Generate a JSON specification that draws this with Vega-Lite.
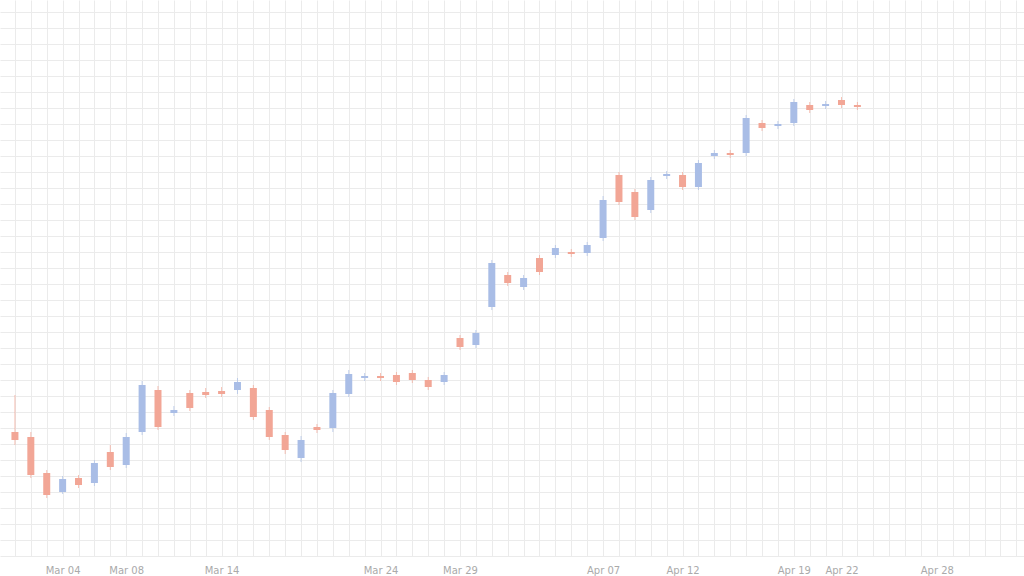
{
  "$schema": "https://vega.github.io/schema/vega-lite/v6.json",
  "width": 1024,
  "height": 556,
  "autosize": {"type": "none"},
  "padding": {"left": 0, "right": 0, "top": 0, "bottom": 20},
  "background": "white",
  "config": {"view": {"stroke": null}},
  "data": {"values": [
    {"date": "2021-03-01", "open": 155, "high": 201.25, "low": 138.75, "close": 145},
    {"date": "2021-03-02", "open": 148.75, "high": 155, "low": 97.5, "close": 101.25},
    {"date": "2021-03-03", "open": 103.75, "high": 107.5, "low": 72.5, "close": 76.25},
    {"date": "2021-03-04", "open": 80, "high": 100, "low": 77.5, "close": 96.25},
    {"date": "2021-03-05", "open": 97.5, "high": 101.25, "low": 85, "close": 88.75},
    {"date": "2021-03-06", "open": 91.25, "high": 120, "low": 87.5, "close": 116.25},
    {"date": "2021-03-07", "open": 130, "high": 138.75, "low": 107.5, "close": 111.25},
    {"date": "2021-03-08", "open": 113.75, "high": 153.75, "low": 110, "close": 148.75},
    {"date": "2021-03-09", "open": 155, "high": 218.75, "low": 151.25, "close": 213.75},
    {"date": "2021-03-10", "open": 207.5, "high": 212.5, "low": 157.5, "close": 161.25},
    {"date": "2021-03-11", "open": 178.75, "high": 187.5, "low": 175, "close": 182.5},
    {"date": "2021-03-12", "open": 203.75, "high": 207.5, "low": 181.25, "close": 185},
    {"date": "2021-03-13", "open": 205, "high": 210, "low": 197.5, "close": 201.25},
    {"date": "2021-03-14", "open": 206.25, "high": 211.25, "low": 198.75, "close": 202.5},
    {"date": "2021-03-15", "open": 207.5, "high": 222.5, "low": 202.5, "close": 217.5},
    {"date": "2021-03-16", "open": 210, "high": 213.75, "low": 170, "close": 173.75},
    {"date": "2021-03-17", "open": 182.5, "high": 186.25, "low": 145, "close": 148.75},
    {"date": "2021-03-18", "open": 151.25, "high": 155, "low": 127.5, "close": 132.5},
    {"date": "2021-03-19", "open": 122.5, "high": 150, "low": 117.5, "close": 145},
    {"date": "2021-03-20", "open": 161.25, "high": 165, "low": 153.75, "close": 157.5},
    {"date": "2021-03-21", "open": 160, "high": 207.5, "low": 155, "close": 203.75},
    {"date": "2021-03-22", "open": 202.5, "high": 232.5, "low": 198.75, "close": 227.5},
    {"date": "2021-03-23", "open": 222.5, "high": 228.75, "low": 218.75, "close": 225},
    {"date": "2021-03-24", "open": 225, "high": 228.75, "low": 218.75, "close": 222.5},
    {"date": "2021-03-25", "open": 226.25, "high": 230, "low": 213.75, "close": 217.5},
    {"date": "2021-03-26", "open": 228.75, "high": 232.5, "low": 216.25, "close": 220},
    {"date": "2021-03-27", "open": 220, "high": 223.75, "low": 207.5, "close": 211.25},
    {"date": "2021-03-28", "open": 217.5, "high": 230, "low": 213.75, "close": 226.25},
    {"date": "2021-03-29", "open": 272.5, "high": 276.25, "low": 257.5, "close": 261.25},
    {"date": "2021-03-30", "open": 263.75, "high": 282.5, "low": 260, "close": 278.75},
    {"date": "2021-03-31", "open": 311.25, "high": 370, "low": 307.5, "close": 366.25},
    {"date": "2021-04-01", "open": 351.25, "high": 355, "low": 337.5, "close": 341.25},
    {"date": "2021-04-02", "open": 336.25, "high": 351.25, "low": 332.5, "close": 347.5},
    {"date": "2021-04-03", "open": 372.5, "high": 376.25, "low": 351.25, "close": 355},
    {"date": "2021-04-04", "open": 376.25, "high": 388.75, "low": 372.5, "close": 385},
    {"date": "2021-04-05", "open": 380, "high": 383.75, "low": 373.75, "close": 377.5},
    {"date": "2021-04-06", "open": 378.75, "high": 392.5, "low": 375, "close": 388.75},
    {"date": "2021-04-07", "open": 397.5, "high": 450, "low": 393.75, "close": 445},
    {"date": "2021-04-08", "open": 476.25, "high": 480, "low": 438.75, "close": 442.5},
    {"date": "2021-04-09", "open": 455, "high": 458.75, "low": 420, "close": 423.75},
    {"date": "2021-04-10", "open": 432.5, "high": 473.75, "low": 428.75, "close": 470},
    {"date": "2021-04-11", "open": 475, "high": 481.25, "low": 471.25, "close": 477.5},
    {"date": "2021-04-12", "open": 476.25, "high": 480, "low": 457.5, "close": 461.25},
    {"date": "2021-04-13", "open": 461.25, "high": 495, "low": 457.5, "close": 491.25},
    {"date": "2021-04-14", "open": 500, "high": 507.5, "low": 496.25, "close": 503.75},
    {"date": "2021-04-15", "open": 503.75, "high": 507.5, "low": 497.5, "close": 501.25},
    {"date": "2021-04-16", "open": 503.75, "high": 551.25, "low": 500, "close": 547.5},
    {"date": "2021-04-17", "open": 541.25, "high": 545, "low": 531.25, "close": 535},
    {"date": "2021-04-18", "open": 537.5, "high": 543.75, "low": 533.75, "close": 540},
    {"date": "2021-04-19", "open": 541.25, "high": 571.25, "low": 537.5, "close": 567.5},
    {"date": "2021-04-20", "open": 563.75, "high": 567.5, "low": 553.75, "close": 557.5},
    {"date": "2021-04-21", "open": 562.5, "high": 568.75, "low": 558.75, "close": 565},
    {"date": "2021-04-22", "open": 570, "high": 573.75, "low": 560, "close": 563.75},
    {"date": "2021-04-23", "open": 563.75, "high": 567.5, "low": 557.5, "close": 561.25}
  ]},
  "resolve": {"axis": {"x": "independent"}},
  "layer": [
    {
      "mark": {"type": "rule", "strokeWidth": 1, "opacity": 0.7},
      "encoding": {
        "x": {
          "field": "date",
          "type": "temporal",
          "title": null,
          "scale": {"type": "utc", "domain": ["2021-02-28T09:00:00Z", "2021-05-03T04:00:00Z"]},
          "axis": {
            "orient": "bottom",
            "tickCount": {"interval": "day", "step": 1},
            "grid": true,
            "gridColor": "#ebebeb",
            "domain": false,
            "ticks": false,
            "labels": false
          }
        },
        "y": {
          "field": "low",
          "type": "quantitative",
          "scale": {"domain": [0, 695], "nice": false, "zero": false},
          "axis": {
            "title": null,
            "labels": false,
            "ticks": false,
            "domain": false,
            "grid": true,
            "gridColor": "#ebebeb",
            "tickCount": 35
          }
        },
        "y2": {"field": "high"},
        "color": {
          "condition": {"test": "datum.open <= datum.close", "value": "#a9bde6"},
          "value": "#f2a696"
        }
      }
    },
    {
      "mark": {"type": "bar", "size": 7},
      "encoding": {
        "x": {
          "field": "date",
          "type": "temporal",
          "title": null,
          "axis": {
            "orient": "bottom",
            "values": ["2021-03-04T00:00:00Z", "2021-03-08T00:00:00Z", "2021-03-14T00:00:00Z", "2021-03-24T00:00:00Z", "2021-03-29T00:00:00Z", "2021-04-07T00:00:00Z", "2021-04-12T00:00:00Z", "2021-04-19T00:00:00Z", "2021-04-22T00:00:00Z", "2021-04-28T00:00:00Z"],
            "format": "%b %d",
            "grid": false,
            "domain": false,
            "ticks": false,
            "labelColor": "#aaaaaa",
            "labelFontSize": 10,
            "labelFont": "DejaVu Sans",
            "labelPadding": 9,
            "labelOverlap": false
          }
        },
        "y": {"field": "open", "type": "quantitative"},
        "y2": {"field": "close"},
        "color": {
          "condition": {"test": "datum.open <= datum.close", "value": "#a9bde6"},
          "value": "#f2a696"
        }
      }
    }
  ]
}
